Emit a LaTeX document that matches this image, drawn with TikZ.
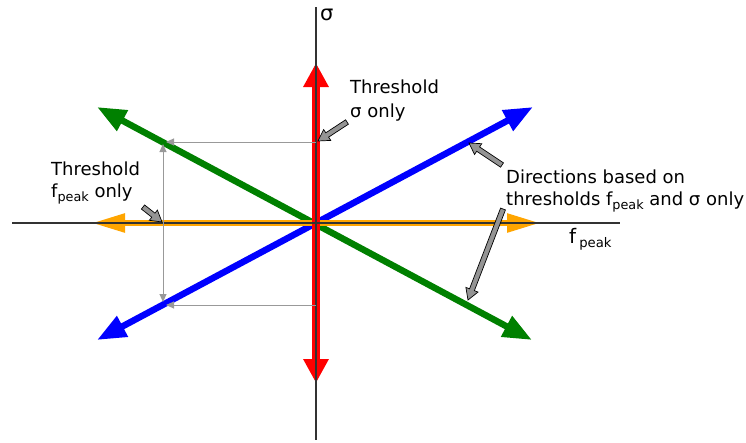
\documentclass[tikz,border=0pt]{standalone}
\usepackage{fontspec}
\setmainfont{DejaVu Sans}
\usetikzlibrary{arrows.meta,calc}
\definecolor{goldorange}{RGB}{255,165,0}
\newcommand{\sbs}[1]{\raisebox{-4.5pt}{\fontsize{12.8}{13}\selectfont #1}}
\newcommand{\callout}[2]{%
  \coordinate (cH) at ($(#2)!11pt!(#1)$);
  \draw[callout] ($(#1)!2.6pt!90:(#2)$) -- ($(cH)!2.6pt!90:(#2)$) -- ($(cH)!6.5pt!90:(#2)$) -- (#2)
    -- ($(cH)!6.5pt!-90:(#2)$) -- ($(cH)!2.6pt!-90:(#2)$) -- ($(#1)!2.6pt!-90:(#2)$) -- cycle;}
\begin{document}
\begin{tikzpicture}[x=1pt,y=-1pt,
  lbl/.style={inner sep=0pt, anchor=base west, font=\fontsize{18}{22}\selectfont},
  axlbl/.style={inner sep=0pt, anchor=base west, font=\fontsize{21}{24}\selectfont},
  axis/.style={line width=1.3pt, black!80},
  guide/.style={line width=0.9pt, black!40, -{Triangle[length=8pt,width=7pt]}},
  callout/.style={fill=black!42, draw=black, line width=0.7pt, line join=miter},
  dirarrow/.style={line width=6.5pt, {Triangle[length=29pt,width=22pt]}-{Triangle[length=29pt,width=22pt]}}]
\useasboundingbox (0,0) rectangle (746,442);
% coordinates
\coordinate (O) at (316,223);
\coordinate (gTL) at (97,107); \coordinate (gBR) at (532,340);
\coordinate (bBL) at (97,340); \coordinate (bTR) at (533,107);
\coordinate (rT) at (316,63); \coordinate (rB) at (316,383);
\coordinate (oL) at (92,223); \coordinate (oR) at (540,223);
\coordinate (yTop) at (316,7); \coordinate (yBot) at (316,440);
\coordinate (xL) at (12,223); \coordinate (xR) at (620,223);
% direction arrows
\draw[dirarrow, green!50!black] (gTL) -- (gBR);
\draw[dirarrow, blue] (bBL) -- (bTR);
\draw[line width=5.5pt, goldorange, {Triangle[length=33pt,width=18pt]}-{Triangle[length=33pt,width=18pt]}] (oL) -- (oR);
\draw[line width=8pt, red, {Triangle[length=24pt,width=24pt]}-{Triangle[length=24pt,width=24pt]}] (rB) -- (rT);
% axes
\draw[axis] (yTop) -- (yBot);
\draw[axis] (xL) -- (xR);
% guide lines
\coordinate (gv) at (163,223); \coordinate (gvT) at (163,144); \coordinate (gvB) at (163,302);
\coordinate (ghT) at (316,142); \coordinate (ghTe) at (166,142);
\coordinate (ghB) at (316,305); \coordinate (ghBe) at (166,305);
\draw[guide] (gv) -- (gvT);
\draw[guide] (gv) -- (gvB);
\draw[guide] (ghT) -- (ghTe);
\draw[guide] (ghB) -- (ghBe);
% callouts
\coordinate (c1a) at (347,122); \coordinate (c1b) at (318,141);
\coordinate (c2a) at (143,207); \coordinate (c2b) at (162,222);
\coordinate (c3a) at (502,165); \coordinate (c3b) at (469,143);
\coordinate (c4a) at (503,209); \coordinate (c4b) at (468,300);
\callout{c1a}{c1b}
\callout{c2a}{c2b}
\callout{c3a}{c3b}
\callout{c4a}{c4b}
% labels
\node[axlbl] (sig) at (320,20.5) {σ};
\node[axlbl, font=\fontsize{20}{24}\selectfont] (fp) at (569,243) {f\hspace{3pt}\raisebox{-4.5pt}{\fontsize{13.2}{14}\selectfont peak}};
\node[lbl] (t1a) at (350,93) {Threshold};
\node[lbl] (t1b) at (350,117) {σ only};
\node[lbl] (t2a) at (51,175) {Threshold};
\node[lbl] (t2b) at (51,197) {f\sbs{peak} only};
\node[lbl] (t3a) at (506,183) {Directions based on};
\node[lbl] (t3b) at (506,205) {thresholds f\sbs{peak} and σ only};
\end{tikzpicture}
\end{document}
